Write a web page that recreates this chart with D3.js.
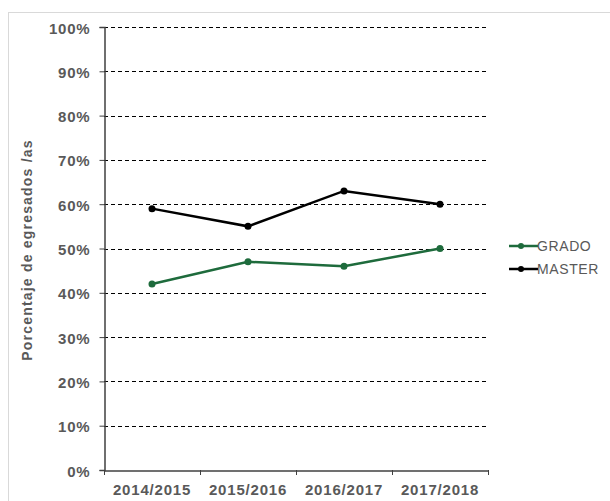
<!DOCTYPE html>
<html><head><meta charset="utf-8">
<script src="https://cdn.jsdelivr.net/npm/d3@7"></script>
<style>body{margin:0;background:#fff}svg{display:block}</style>
</head><body>
<script>
const categories = ["2014/2015","2015/2016","2016/2017","2017/2018"];
const grado = [0.42,0.47,0.46,0.50];
const master = [0.59,0.55,0.63,0.60];
const yTicks = [0,0.1,0.2,0.3,0.4,0.5,0.6,0.7,0.8,0.9,1.0];
const seriesNames = ["GRADO","MASTER"];
const seriesColors = ["#1e6b3c","#000000"];

(function(){
const W=610,H=501;
const svg=d3.select("body").append("svg").attr("width",W).attr("height",H);
svg.append("rect").attr("x",8.5).attr("y",12.5).attr("width",W).attr("height",H)
  .attr("fill","#fff").attr("stroke","#d9d9d9");

const pL=104,pR=488,pT=27,pB=470;
const x=d3.scaleBand().domain(categories).range([pL,pR]);
const y=d3.scaleLinear().domain([0,1]).range([pB,pT]);
const font="'Liberation Sans', Arial, sans-serif";
const grey="#595959";

svg.append("g").selectAll("line").data(yTicks.filter(d=>d>0)).join("line")
  .attr("x1",pL).attr("x2",pR).attr("y1",d=>Math.round(y(d))+0.5).attr("y2",d=>Math.round(y(d))+0.5)
  .attr("stroke","#000").attr("stroke-width",1).attr("stroke-dasharray","4,3");

const ya=svg.append("g").attr("transform",`translate(${pL+0.5},0)`)
  .call(d3.axisLeft(y).tickValues(yTicks).tickFormat(d3.format(".0%")).tickSize(5).tickPadding(9));
ya.select(".domain").attr("stroke","#404040").attr("stroke-width",1.5);
ya.selectAll(".tick line").attr("stroke","#404040");
ya.selectAll("text").attr("font-family",font).attr("font-size",15).attr("font-weight","bold")
  .attr("letter-spacing","0.8px").attr("fill",grey).attr("dy","0.4em");

const xa=svg.append("g").attr("transform",`translate(0,${pB+0.5})`)
  .call(d3.axisBottom(x).tickSize(0).tickPadding(14));
xa.select(".domain").attr("stroke","#404040").attr("stroke-width",1.5);
xa.selectAll("text").attr("font-family",font).attr("font-size",15).attr("font-weight","bold")
  .attr("letter-spacing","0.8px").attr("fill",grey);
svg.append("g").selectAll("line").data(categories.concat([null])).join("line")
  .attr("x1",(d,i)=>Math.round(pL+i*x.bandwidth())+0.5).attr("x2",(d,i)=>Math.round(pL+i*x.bandwidth())+0.5)
  .attr("y1",pB).attr("y2",pB+5).attr("stroke","#404040");

svg.append("text").attr("transform",`translate(32,250) rotate(-90)`)
  .attr("text-anchor","middle").attr("font-family",font).attr("font-size",14).attr("font-weight","bold")
  .attr("letter-spacing","1.2px").attr("fill",grey).text("Porcentaje de egresados /as");

const series=[grado,master];
const line=d3.line().x((d,i)=>x(categories[i])+x.bandwidth()/2).y(d=>y(d));
series.forEach((s,k)=>{
  svg.append("path").datum(s).attr("d",line).attr("fill","none").attr("stroke",seriesColors[k]).attr("stroke-width",2.5);
  svg.append("g").selectAll("circle").data(s).join("circle")
    .attr("cx",(d,i)=>x(categories[i])+x.bandwidth()/2).attr("cy",d=>y(d)).attr("r",3.5).attr("fill",seriesColors[k]);
});

seriesNames.forEach((n,k)=>{
  const ly=246+k*23;
  svg.append("line").attr("x1",509).attr("x2",538).attr("y1",ly).attr("y2",ly).attr("stroke",seriesColors[k]).attr("stroke-width",2.5);
  svg.append("circle").attr("cx",521).attr("cy",ly).attr("r",3).attr("fill",seriesColors[k]);
  svg.append("text").attr("x",537).attr("y",ly+5).attr("font-family",font).attr("font-size",14)
    .attr("letter-spacing","0.6px").attr("fill",grey).text(n);
});
})();
</script>
</body></html>
